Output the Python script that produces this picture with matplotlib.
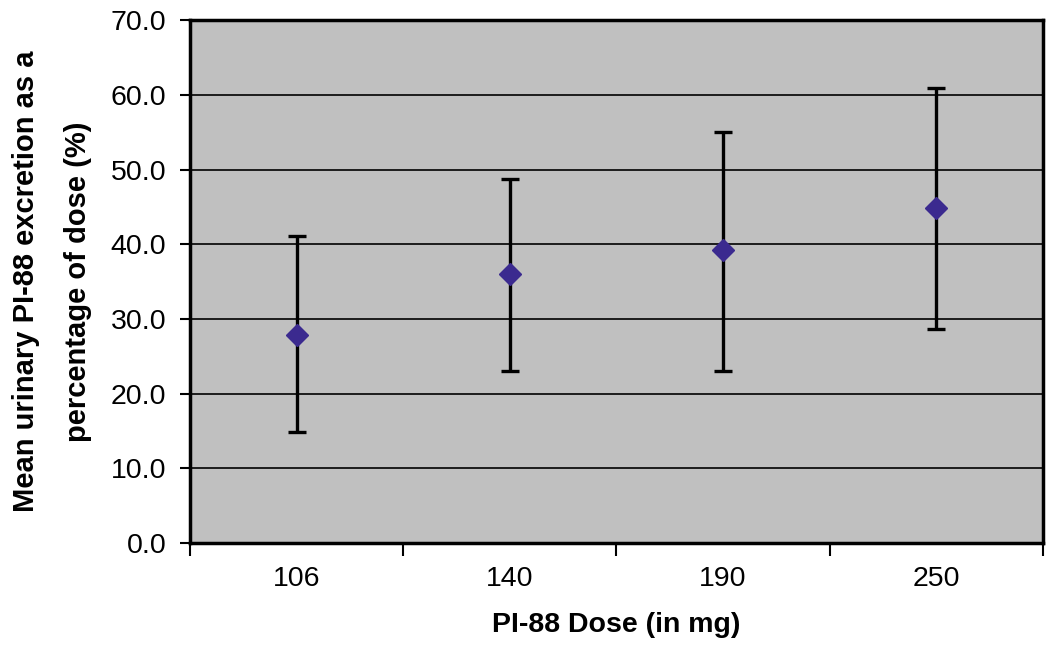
import matplotlib
matplotlib.use("Agg")
from matplotlib import pyplot as plt

# data
doses = ["106", "140", "190", "250"]
means = [27.8, 36.0, 39.2, 44.8]
upper = [41.1, 48.7, 55.0, 60.9]
lower = [14.8, 23.0, 23.0, 28.6]
yticks = [0, 10, 20, 30, 40, 50, 60, 70]

plt.rcParams['font.family'] = ['Liberation Sans', 'DejaVu Sans']

fig = plt.figure(figsize=(10.5, 6.54), dpi=100)
ax = fig.add_axes([0.181, 0.170, 0.812, 0.799])
ax.set_facecolor('#c0c0c0')

x = list(range(len(doses)))
err_lo = [m - l for m, l in zip(means, lower)]
err_hi = [u - m for m, u in zip(means, upper)]
ax.errorbar(x, means, yerr=[err_lo, err_hi], fmt='none', ecolor='black',
            elinewidth=2.4, capsize=6.5, capthick=2.4, zorder=3)
ax.plot(x, means, linestyle='none', marker='D', markersize=11,
        color='#3b2a8f', markeredgecolor='#3b2a8f', zorder=4)

ax.set_xlim(-0.5, len(doses) - 0.5)
ax.set_ylim(0, 70)
ax.set_yticks(yticks)
ax.set_yticklabels(["%.1f" % v for v in yticks])
ax.set_xticks([i - 0.5 for i in range(len(doses) + 1)])
ax.set_xticklabels([])
ax.set_xticks(x, minor=True)
ax.set_xticklabels(doses, minor=True)
ax.tick_params(axis='x', which='minor', length=0, pad=17, labelsize=20.5)
ax.tick_params(axis='x', which='major', direction='out', length=9, width=1.5)
ax.tick_params(axis='y', direction='out', length=7, width=1.5, labelsize=20.5, pad=10)

ax.grid(axis='y', color='black', linewidth=1.2)
ax.set_axisbelow(True)
for s in ax.spines.values():
    s.set_linewidth(2.5)
    s.set_color('black')

ax.set_xlabel("PI-88 Dose (in mg)", fontsize=20.5, fontweight='bold', labelpad=14)
ax.set_ylabel("Mean urinary PI-88 excretion as a\npercentage of dose (%)",
              fontsize=21, fontweight='bold', linespacing=2.1)
ax.yaxis.set_label_coords(-0.115, 0.5)

fig.savefig("out.png", dpi=100)
